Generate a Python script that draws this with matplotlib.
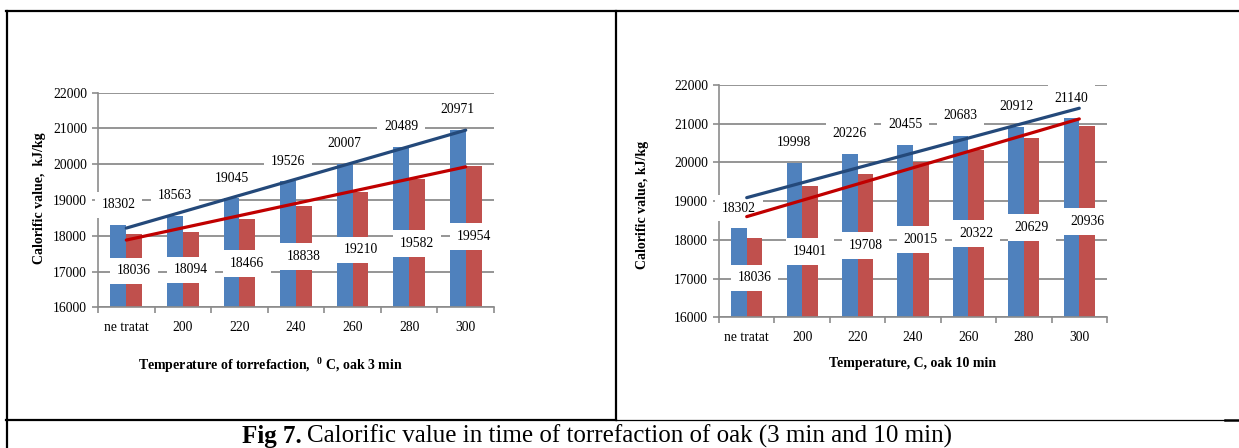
import matplotlib
matplotlib.use("Agg")
import matplotlib.pyplot as plt
from matplotlib.lines import Line2D
import numpy as np

plt.rcParams['font.family'] = ['Liberation Serif', 'DejaVu Serif']
plt.rcParams['mathtext.fontset'] = 'custom'
plt.rcParams['mathtext.rm'] = 'Liberation Serif'
plt.rcParams['mathtext.bf'] = 'Liberation Serif:bold'

categories = ["ne tratat", "200", "220", "240", "260", "280", "300"]

# oak 3 min
blue_3 = [18302, 18563, 19045, 19526, 20007, 20489, 20971]
red_3 = [18036, 18094, 18466, 18838, 19210, 19582, 19954]
trend_blue_3 = [18215, 20953]   # trend line ends (first and last category)
trend_red_3 = [17880, 19927]

# oak 10 min
blue_10 = [18302, 19998, 20226, 20455, 20683, 20912, 21140]
red_10 = [18036, 19401, 19708, 20015, 20322, 20629, 20936]
trend_blue_10 = [19090, 21400]
trend_red_10 = [18600, 21124]

yticks = [16000, 17000, 18000, 19000, 20000, 21000, 22000]

BLUE = "#4F81BD"
RED = "#C0504D"
TBLUE = "#24497A"
TRED = "#C00000"
GRID = "#8C8C8C"
W, H = 1239, 448

fig = plt.figure(figsize=(W / 100, H / 100), dpi=100)


def make_axes(rect, blue, red, tblue, tred, ylabel, ylab_x, ylab_y):
    ax = fig.add_axes(rect)
    x = np.arange(len(categories))
    bw = 0.28
    ax.bar(x - bw / 2, np.array(blue) - 16000, bottom=16000, width=bw,
           color=BLUE, zorder=2)
    ax.bar(x + bw / 2, np.array(red) - 16000, bottom=16000, width=bw,
           color=RED, zorder=2)
    for xi, v in zip(x, blue):
        ax.annotate(str(v), xy=(xi - bw / 2, v), xytext=(0, 14.5),
                    textcoords='offset points', ha='center', va='center',
                    fontsize=9.8, zorder=3,
                    bbox=dict(boxstyle='square,pad=0.5', fc='white', ec='none'))
    for xi, v in zip(x, red):
        ax.text(xi + bw / 2, (16000 + v) / 2, str(v), ha='center', va='center',
                fontsize=9.8, zorder=3,
                bbox=dict(boxstyle='square,pad=0.5', fc='white', ec='none'))
    ax.plot([x[0], x[-1]], tblue, color=TBLUE, lw=2.3, zorder=4,
            solid_capstyle='round')
    ax.plot([x[0], x[-1]], tred, color=TRED, lw=2.3, zorder=4,
            solid_capstyle='round')
    ax.set_xlim(-0.5, len(categories) - 0.5)
    ax.set_ylim(16000, 22000)
    ax.set_yticks(yticks)
    ax.set_yticklabels([str(t) for t in yticks], fontsize=9.8)
    ax.yaxis.grid(True, color=GRID, lw=1.3)
    ax.set_axisbelow(True)
    ax.set_xticks(np.arange(len(categories) + 1) - 0.5)
    ax.set_xticklabels([])
    ax.set_xticks(x, minor=True)
    ax.set_xticklabels(categories, minor=True, fontsize=9.8)
    ax.tick_params(axis='x', which='major', length=4, color=GRID, width=1.2,
                   direction='out')
    ax.tick_params(axis='x', which='minor', length=0, pad=10)
    ax.tick_params(axis='y', length=4, color=GRID, width=1.2, pad=4)
    for s in ['top', 'right']:
        ax.spines[s].set_visible(False)
    for s in ['left', 'bottom']:
        ax.spines[s].set_color(GRID)
        ax.spines[s].set_linewidth(1.2)
    ax.set_ylabel(ylabel, fontsize=10, fontweight='bold')
    ax.yaxis.set_label_coords(ylab_x, ylab_y)
    return ax


ax1 = make_axes([98 / W, 1 - 307.3 / H, (494 - 98) / W, (307.3 - 92.7) / H],
                blue_3, red_3, trend_blue_3, trend_red_3,
                "Calorific value,  kJ/kg", -0.131, 0.509)
ax2 = make_axes([719 / W, 1 - 317.3 / H, (1107 - 719) / W, (317.3 - 85) / H],
                blue_10, red_10, trend_blue_10, trend_red_10,
                "Calorific value, kJ/kg", -0.180, 0.483)

fig.text(270 / W, 1 - 365 / H,
         r"Temperature of torrefaction,  $^{\mathbf{0}}$ C, oak 3 min",
         ha='center', va='center', fontsize=10, fontweight='bold')
fig.text(913 / W, 1 - 363 / H, "Temperature, C, oak 10 min",
         ha='center', va='center', fontsize=10, fontweight='bold')

# caption
cap1 = fig.text(242 / W, 1 - 443 / H, "Fig 7.", ha='left', va='baseline',
                fontsize=18, fontweight='bold')
fig.canvas.draw()
bb = cap1.get_window_extent()
fig.text((bb.x1 + 5) / W, 1 - 443 / H,
         "Calorific value in time of torrefaction of oak (3 min and 10 min)",
         ha='left', va='baseline', fontsize=18)

# table borders
def fline(xs, ys, lw):
    fig.add_artist(Line2D([x / W for x in xs], [1 - y / H for y in ys],
                          color='black', lw=lw, transform=fig.transFigure))

fline([6, 1239], [11, 11], 1.6)
fline([7, 7], [11, 448], 1.6)
fline([616, 616], [11, 420], 1.6)
fline([6, 616], [420, 420], 1.6)
fline([616, 1225], [420, 420], 0.9)
fline([1225, 1239], [420, 420], 1.8)

fig.savefig("out.png", dpi=100)
